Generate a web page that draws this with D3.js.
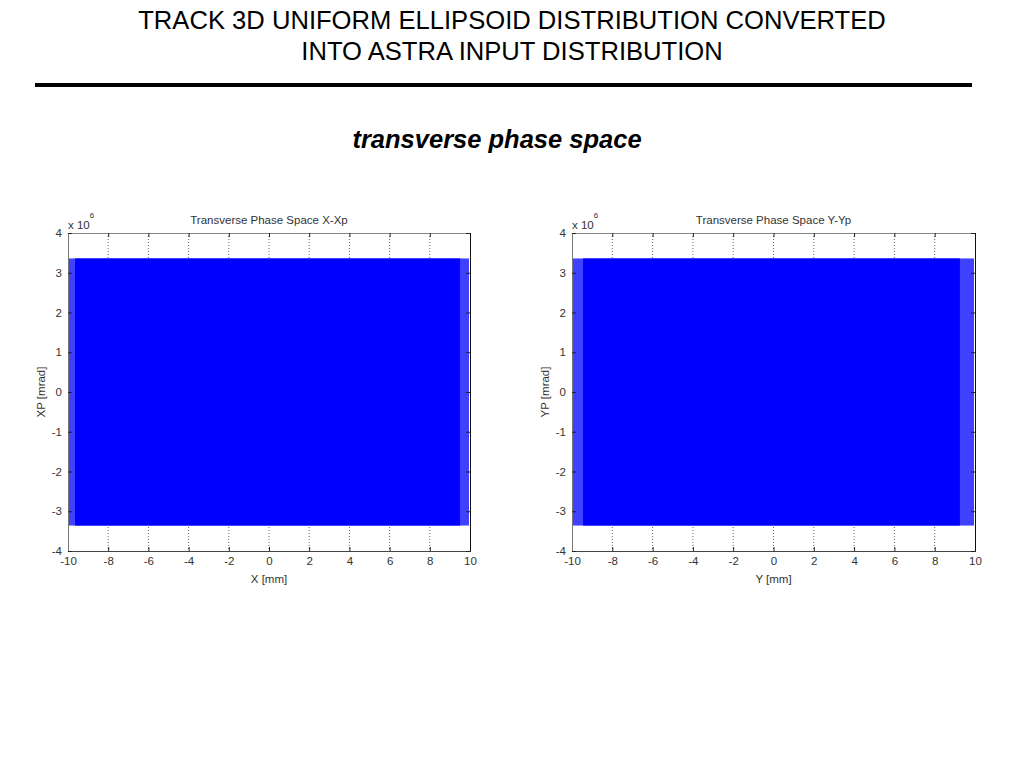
<!DOCTYPE html>
<html><head><meta charset="utf-8">
<script src="https://cdn.jsdelivr.net/npm/d3@7"></script>
<style>body{margin:0;background:#fff}svg{display:block}</style>
</head><body><svg id="c" width="1024" height="768"></svg>
<script>
// ---- data ----
const titleLines = ["TRACK 3D UNIFORM ELLIPSOID DISTRIBUTION CONVERTED", "INTO ASTRA INPUT DISTRIBUTION"];
const subtitle = "transverse phase space";
const xTicks = [-10, -8, -6, -4, -2, 0, 2, 4, 6, 8, 10];
const yTicks = [-4, -3, -2, -1, 0, 1, 2, 3, 4];
const panelTitles = ["Transverse Phase Space X-Xp", "Transverse Phase Space Y-Yp"];
const xLabels = ["X [mm]", "Y [mm]"];
const yLabels = ["XP [mrad]", "YP [mrad]"];
// particle cloud extents (units of axis; y in 1e6 mrad)
const denseX = [[-9.65, 9.5], [-9.45, 9.25]];
const sparseX = [[-9.95, 9.95], [-9.95, 9.95]];
const cloudY = [[-3.36, 3.36], [-3.36, 3.36]];

const svg = d3.select("#c");
const F = "'Liberation Sans', Arial, Helvetica, sans-serif";

svg.selectAll("text.t").data(titleLines).join("text")
  .attr("x", 512).attr("y", (d, i) => 29 + i * 31)
  .attr("text-anchor", "middle").attr("font-family", F).attr("font-size", 25.6)
  .attr("fill", "#000").text(d => d);
svg.append("rect").attr("x", 35).attr("y", 83).attr("width", 937).attr("height", 4).attr("fill", "#000");
svg.append("text").attr("x", 497).attr("y", 148).attr("text-anchor", "middle")
  .attr("font-family", F).attr("font-size", 25.5).attr("font-weight", "bold").attr("font-style", "italic")
  .text(subtitle);

const panels = [{x0: 68, x1: 470}, {x0: 572, x1: 975}];
const plotTop = 233, plotBot = 551;
const tc = "#333";
const fmt = d => String(d);

panels.forEach((p, k) => {
  const x = d3.scaleLinear().domain([-10, 10]).range([p.x0, p.x1]);
  const y = d3.scaleLinear().domain([-4, 4]).range([plotBot, plotTop]);
  const g = svg.append("g");
  g.selectAll("line.grid").data(xTicks.slice(1, -1)).join("line")
    .attr("x1", d => x(d)).attr("x2", d => x(d)).attr("y1", plotTop).attr("y2", plotBot)
    .attr("stroke", "#666").attr("stroke-width", 1).attr("stroke-dasharray", "1,2");
  g.append("rect").attr("x", x(sparseX[k][0])).attr("width", x(sparseX[k][1]) - x(sparseX[k][0]))
    .attr("y", y(cloudY[k][1])).attr("height", y(cloudY[k][0]) - y(cloudY[k][1]))
    .attr("fill", "#0000ff").attr("fill-opacity", 0.75);
  g.append("rect").attr("x", x(denseX[k][0])).attr("width", x(denseX[k][1]) - x(denseX[k][0]))
    .attr("y", y(cloudY[k][1])).attr("height", y(cloudY[k][0]) - y(cloudY[k][1]))
    .attr("fill", "#0000ff");
  const ax = g.append("g").attr("transform", `translate(0,${plotBot})`)
    .call(d3.axisBottom(x).tickValues(xTicks).tickSize(-4).tickPadding(6).tickFormat(fmt));
  const axT = g.append("g").attr("transform", `translate(0,${plotTop})`)
    .call(d3.axisTop(x).tickValues(xTicks).tickSize(-4).tickFormat(""));
  const ay = g.append("g").attr("transform", `translate(${p.x0},0)`)
    .call(d3.axisLeft(y).tickValues(yTicks).tickSize(-4).tickPadding(6).tickFormat(fmt));
  const ayR = g.append("g").attr("transform", `translate(${p.x1},0)`)
    .call(d3.axisRight(y).tickValues(yTicks).tickSize(-4).tickFormat(""));
  [ax, axT, ay, ayR].forEach(a => {
    a.select(".domain").attr("stroke", "#222");
    a.selectAll(".tick line").attr("stroke", "#222");
    a.selectAll("text").attr("font-family", F).attr("font-size", 11.5).attr("fill", tc);
  });
  ax.select(".domain").attr("stroke", "#444");
  axT.select(".domain").attr("stroke", "#888");
  ay.select(".domain").attr("stroke", "#777");
  ayR.select(".domain").attr("stroke", "#111");
  const ex = g.append("text").attr("x", p.x0).attr("y", 229).attr("font-family", F)
    .attr("font-size", 11.5).attr("fill", tc);
  ex.append("tspan").text("x 10");
  ex.append("tspan").attr("dy", -11).attr("font-size", 8).text("6");
  g.append("text").attr("x", (p.x0 + p.x1) / 2).attr("y", 224).attr("text-anchor", "middle")
    .attr("font-family", F).attr("font-size", 11.5).attr("fill", tc).text(panelTitles[k]);
  g.append("text").attr("x", (p.x0 + p.x1) / 2).attr("y", 583).attr("text-anchor", "middle")
    .attr("font-family", F).attr("font-size", 11.5).attr("fill", tc).text(xLabels[k]);
  g.append("text").attr("transform", `translate(${p.x0 - 23},${(plotTop + plotBot) / 2}) rotate(-90)`)
    .attr("text-anchor", "middle").attr("font-family", F).attr("font-size", 11.5).attr("fill", tc)
    .text(yLabels[k]);
});
</script></body></html>
